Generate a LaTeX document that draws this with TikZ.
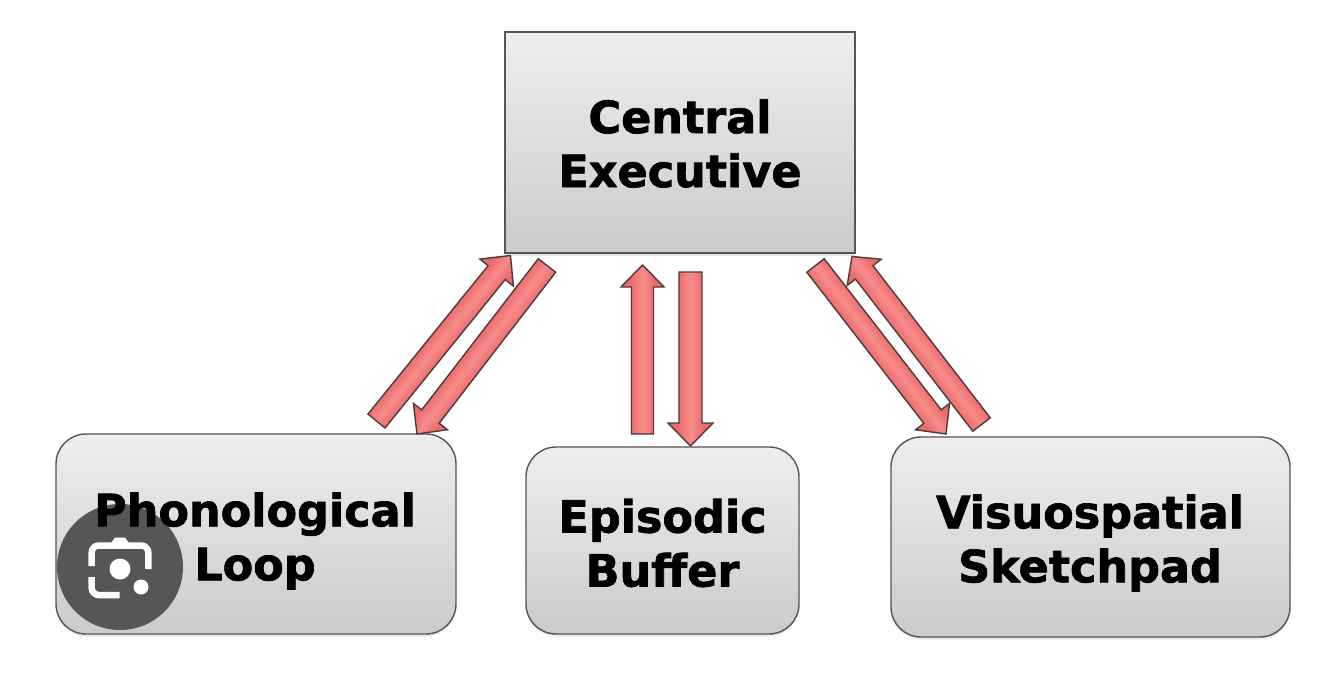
\documentclass[tikz,border=0pt]{standalone}
\usepackage{fontspec}
\setmainfont{DejaVu Sans}
\newfontfamily\heavyfont{DejaVu Sans Bold}[FakeBold=1.6]
\usetikzlibrary{calc,shadows}
\definecolor{boxtop}{HTML}{EEEEEE}
\definecolor{boxbot}{HTML}{CBCBCB}
\definecolor{boxline}{HTML}{555555}
\definecolor{arrowedge}{HTML}{EB6B6B}
\definecolor{arrowmid}{HTML}{F88C8A}
\definecolor{arrowline}{HTML}{4E3A3A}
\definecolor{lensgrey}{HTML}{565656}
\pgfdeclarehorizontalshading{arrowshade}{100bp}{color(0bp)=(arrowedge);color(36bp)=(arrowedge);color(50bp)=(arrowmid);color(64bp)=(arrowedge);color(100bp)=(arrowedge)}
\tikzset{
  boxbase/.style={draw=boxline,line width=1.4pt,top color=boxtop,bottom color=boxbot,
    inner sep=0pt,drop shadow={opacity=.18,shadow xshift=0pt,shadow yshift=-2.5pt}},
  squarebox/.style={boxbase},
  roundbox/.style={boxbase,rounded corners=30pt},
  boxlabel/.style={align=center,inner sep=0pt,text=black,font=\fontsize{44.5}{54}\selectfont\heavyfont},
  arrowbody/.style={draw=arrowline,line width=1.4pt,line join=miter,shading=arrowshade},
  lensicon/.style={draw=white,line width=6.5pt,line cap=butt,line join=round},
}
% tail, tip, shaft width, head width, head length (all in px = pt)
\newcommand\blockarrow[5]{%
  \pgfpointdiff{\pgfpointanchor{#1}{center}}{\pgfpointanchor{#2}{center}}%
  \pgfgetlastxy\adx\ady
  \pgfmathsetmacro\aang{atan2(\ady,\adx)-90}%
  \pgfmathsetmacro\alen{veclen(\adx,\ady)}%
  \pgfmathsetmacro\aneck{\alen-#5}%
  \begin{scope}[transform canvas={shift={(#1)},rotate=\aang}]
    \shade[arrowbody] (-#3/2 pt,0pt) -- (-#3/2 pt,\aneck pt) -- (-#4/2 pt,\aneck pt) -- (0pt,\alen pt)
      -- (#4/2 pt,\aneck pt) -- (#3/2 pt,\aneck pt) -- (#3/2 pt,0pt) -- cycle;
  \end{scope}}
\begin{document}
\begin{tikzpicture}[x=1pt,y=-1pt]
\useasboundingbox (0,0) rectangle (1334,693);
\fill[white] (0,0) rectangle (1334,693);
\node[squarebox,minimum width=350pt,minimum height=221pt] (central) at (680,142.5) {};
\node[roundbox,minimum width=400pt,minimum height=200pt] (phono) at (256,534) {};
\node[roundbox,minimum width=273pt,minimum height=187pt] (buffer) at (662.5,540.5) {};
\node[roundbox,minimum width=399pt,minimum height=200pt] (sketch) at (1090.5,537) {};
\coordinate (a1) at (376.5,421); \coordinate (b1) at (510.5,255.5);
\coordinate (a2) at (547,265.5); \coordinate (b2) at (417,434);
\coordinate (a3) at (642.5,434); \coordinate (b3) at (642.5,265);
\coordinate (a4) at (690.5,272); \coordinate (b4) at (690.5,446);
\coordinate (a5) at (815.5,265.5); \coordinate (b5) at (946,434);
\coordinate (a6) at (981.5,424.5); \coordinate (b6) at (852,256.5);
\blockarrow{a1}{b1}{22}{43}{22}
\blockarrow{a2}{b2}{22}{43}{22}
\blockarrow{a3}{b3}{22}{43}{22}
\blockarrow{a4}{b4}{23}{45}{23}
\blockarrow{a5}{b5}{22}{43}{22}
\blockarrow{a6}{b6}{22}{43}{20}
\node[circle,fill=lensgrey,minimum size=126pt,inner sep=0pt] (lens) at (120,567) {};
\draw[lensicon,rounded corners=7pt] (91.7,566) -- (91.7,545.5) -- (148.3,545.5) -- (148.3,569);
\draw[lensicon,rounded corners=7pt] (91.7,577) -- (91.7,595) -- (119.5,595);
\fill[white] (115,537.5) -- (125,537.5) -- (131,546) -- (109,546) -- cycle;
\node[circle,fill=white,minimum size=21pt,inner sep=0pt] (lenseye) at (120,569) {};
\node[circle,fill=white,minimum size=15pt,inner sep=0pt] (lensdot) at (141,587) {};
\node[boxlabel] (centraltext) at (680,143.5) {Central\\Executive};
\node[boxlabel] (phonotext) at (255,541) {Phonological\\Loop};
\node[boxlabel] (buffertext) at (662.5,543) {Episodic\\Buffer};
\node[boxlabel] (sketchtext) at (1090,543) {Visuospatial\\Sketchpad};
\end{tikzpicture}
\end{document}
